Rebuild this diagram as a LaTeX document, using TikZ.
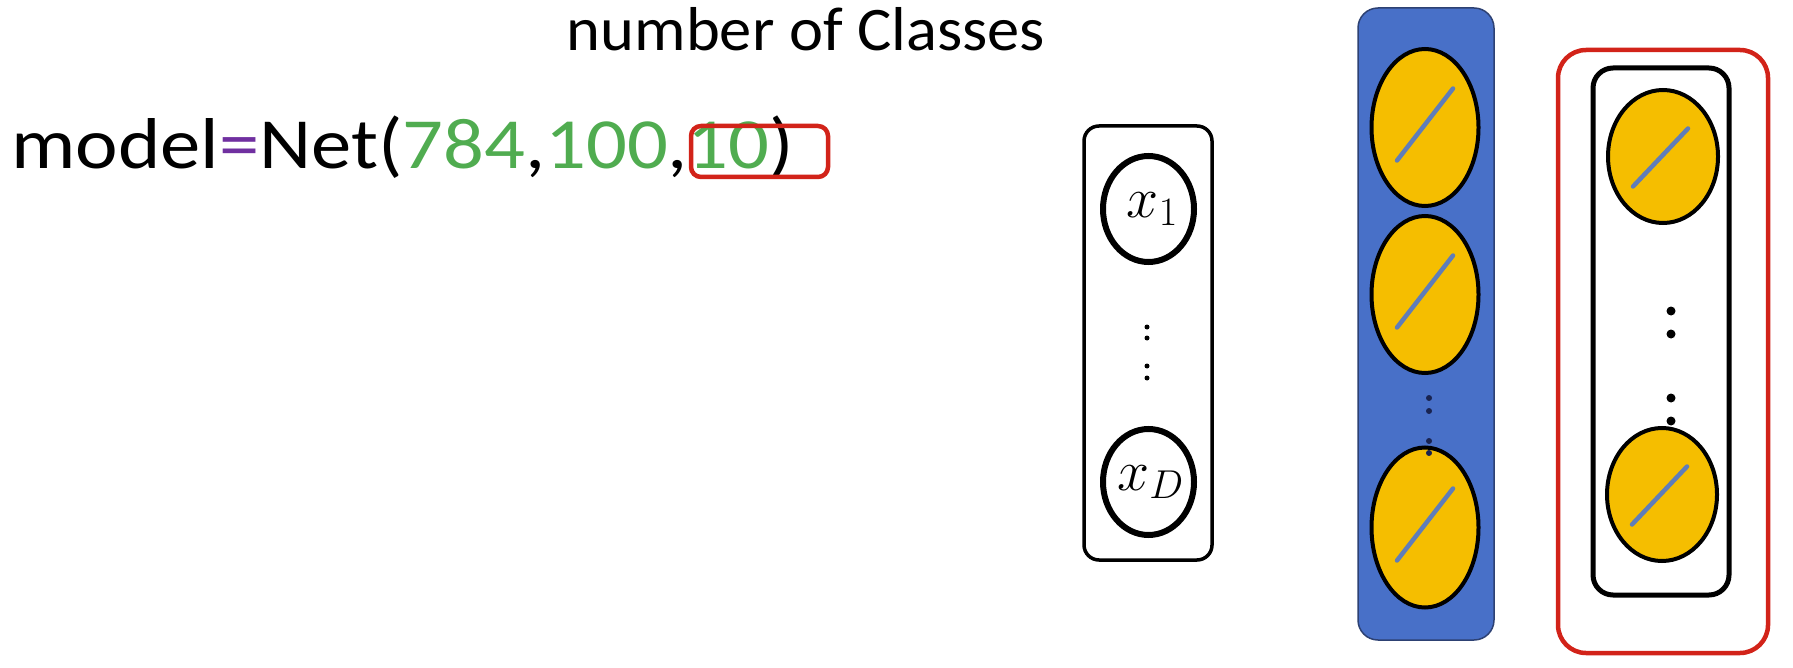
\documentclass[tikz,border=0pt]{standalone}
\usepackage{fix-cm}
\usepackage{fontspec}
\setmainfont{Carlito}
\usetikzlibrary{shapes.geometric}
\definecolor{codegreen}{RGB}{80,172,80}
\definecolor{codepurple}{RGB}{112,48,160}
\definecolor{boxred}{RGB}{210,35,25}
\definecolor{layerblue}{RGB}{72,112,200}
\definecolor{layeredge}{RGB}{45,65,115}
\definecolor{nodeyellow}{RGB}{245,190,0}
\definecolor{slashblue}{RGB}{95,125,185}
\definecolor{dotnavy}{RGB}{25,35,80}
\tikzset{
  inputbox/.style={draw=black, line width=3.5pt, rounded corners=15pt, inner sep=0pt, minimum width=128pt, minimum height=434pt},
  inputnode/.style={ellipse, draw=black, line width=6pt, inner sep=0pt, minimum width=91pt, minimum height=106pt, font=\fontsize{48}{56}\selectfont},
  bluelayer/.style={draw=layeredge, line width=1.5pt, fill=layerblue, rounded corners=20pt, inner sep=0pt, minimum width=136pt, minimum height=632pt},
  unitnode/.style={ellipse, draw=black, line width=4pt, fill=nodeyellow, inner sep=0pt, minimum width=107pt},
  slash/.style={draw=slashblue, line width=4.5pt, line cap=round},
  outbox/.style={draw=black, line width=5pt, rounded corners=20pt, inner sep=0pt, minimum width=136pt, minimum height=527pt},
  redframe/.style={draw=boxred, line width=4.5pt, rounded corners=28pt, inner sep=0pt},
  dotsmall/.style={circle, fill=black, inner sep=0pt, minimum size=5pt},
}
\begin{document}
\begin{tikzpicture}[x=1pt,y=-1pt]
\useasboundingbox (0,0) rectangle (1793,668);

% texts
\node[anchor=base, inner sep=0pt, font=\fontsize{62}{70}\selectfont] (title) at (806,51) {\scalebox{1.04}[1]{number of Classes}};
\node[anchor=base west, inner sep=0pt, font=\fontsize{72}{80}\selectfont] (code) at (11,169)
  {\scalebox{1.12}[1]{model\textcolor{codepurple}{=}Net(\textcolor{codegreen}{784},\textcolor{codegreen}{100},\textcolor{codegreen}{10})}};
\node[redframe, rounded corners=10pt, minimum width=137pt, minimum height=51pt] (hl) at (759.5,151.5) {};

% input column
\node[inputbox] (inbox) at (1148,343) {};
\node[inputnode] (x1) at (1148.5,209) {\makebox[0pt][c]{\hspace*{8pt}\scalebox{1.2}{$x_1$}}};
\node[inputnode] (xD) at (1148.5,482) {\makebox[0pt][c]{\hspace*{4pt}\scalebox{1.2}{$x_D$}}};
\node[dotsmall] (ia) at (1147,327) {};
\node[dotsmall] (ib) at (1147,338) {};
\node[dotsmall] (ic) at (1147,366) {};
\node[dotsmall] (id) at (1147,378) {};

% hidden layer
\node[bluelayer] (hid) at (1426,324) {};
\node[unitnode, minimum height=157pt] (h1) at (1425,127.5) {};
\node[unitnode, minimum height=157pt] (h2) at (1425,294.5) {};
\node[unitnode, minimum height=160pt] (h3) at (1425,527.5) {};
\foreach \n in {h1,h2,h3}{
  \draw[slash] ([shift={(-28,33)}]\n.center) -- ([shift={(28,-39)}]\n.center);
}
\node[dotsmall, fill=dotnavy, minimum size=6pt] (ha) at (1429,398) {};
\node[dotsmall, fill=dotnavy, minimum size=6pt] (hb) at (1429,411) {};
\node[dotsmall, fill=dotnavy, minimum size=6pt] (hc) at (1429,441) {};
\node[dotsmall, fill=dotnavy, minimum size=6pt] (hd) at (1429,453) {};

% output layer
\node[redframe, minimum width=210pt, minimum height=603pt] (outframe) at (1663,351.5) {};
\node[outbox] (obox) at (1661,331.5) {};
\node[unitnode, minimum width=110pt, minimum height=133pt] (o1) at (1663,156.5) {};
\node[unitnode, minimum width=110pt, minimum height=133pt] (o2) at (1662,494.5) {};
\foreach \n in {o1,o2}{
  \draw[slash] ([shift={(-30,30)}]\n.center) -- ([shift={(25,-28)}]\n.center);
}
\node[dotsmall, minimum size=9pt] (oa) at (1671,311) {};
\node[dotsmall, minimum size=9pt] (ob) at (1671,334) {};
\node[dotsmall, minimum size=9pt] (oc) at (1671,398) {};
\node[dotsmall, minimum size=9pt] (od) at (1671,421) {};
\end{tikzpicture}
\end{document}
